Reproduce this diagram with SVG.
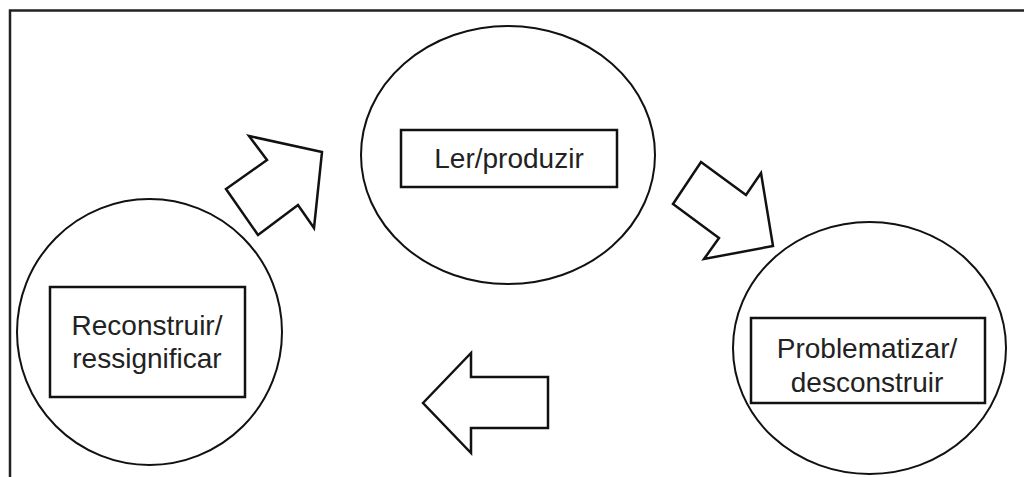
<svg xmlns="http://www.w3.org/2000/svg" width="1024" height="477" viewBox="0 0 1024 477">
<style>
.c{fill:#fff;stroke:#111;stroke-width:2}
.b{fill:#fff;stroke:#111;stroke-width:2.5}
.a{fill:#fff;stroke:#111;stroke-width:2.5;stroke-linejoin:miter}
.t{font-family:"Liberation Sans",Arial,sans-serif;font-size:28px;fill:#222;text-anchor:middle}
</style>
<rect x="0" y="0" width="1024" height="477" fill="#fff"/>
<rect x="10" y="10.5" width="1100" height="600" fill="none" stroke="#222" stroke-width="2.5"/>
<g id="connectors">
<polygon class="a" points="322,152 249,136 267,160 226,189 258,235 298,205 314,228"/>
<polygon class="a" points="773,246 761,173 746,195 701,162 673,204 719,238 704,259"/>
<polygon class="a" points="423,403 471,353 471,377 548,377 548,428 471,428 471,453"/>
</g>
<g id="ler">
<ellipse class="c" cx="508" cy="155" rx="147" ry="129"/>
<rect class="b" x="401" y="130" width="216" height="57"/>
<text class="t" x="509" y="168">Ler/produzir</text>
</g>
<g id="reconstruir">
<ellipse class="c" cx="149.5" cy="332" rx="132.5" ry="133"/>
<rect class="b" x="50" y="287" width="195" height="110"/>
<text class="t" x="147" y="335">Reconstruir/</text>
<text class="t" x="147" y="368">ressignificar</text>
</g>
<g id="problematizar">
<ellipse class="c" cx="869.5" cy="348" rx="136.5" ry="126"/>
<rect class="b" x="751" y="318" width="234" height="85"/>
<text class="t" x="867" y="358">Problematizar/</text>
<text class="t" x="867" y="392">desconstruir</text>
</g>
</svg>
